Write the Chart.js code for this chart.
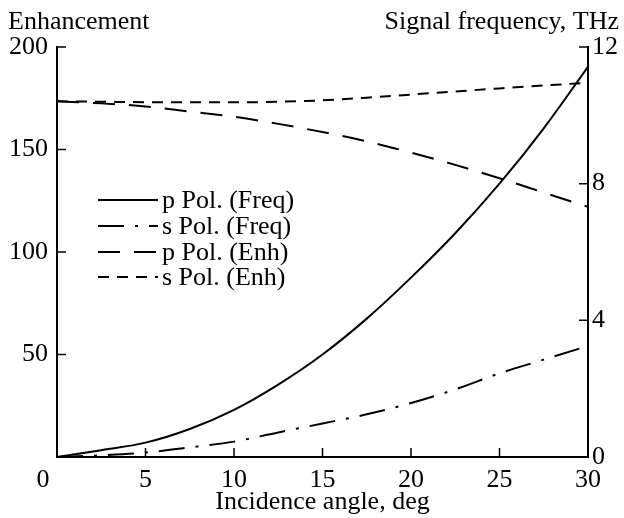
<!DOCTYPE html>
<html>
<head>
<meta charset="utf-8">
<script src="https://cdn.jsdelivr.net/npm/chart.js@4.4.1/dist/chart.umd.min.js"></script>
<style>
  html, body { margin: 0; padding: 0; background: #fff; }
  #wrap { width: 624px; height: 518px; }
</style>
</head>
<body>
<div id="wrap"><canvas id="chart"></canvas></div>
<script>
// data
const angles = [0, 2.5, 5, 7.5, 10, 12.5, 15, 17.5, 20, 22.5, 25, 27.5, 30];
const pFreq = [0, 0.2, 0.42, 0.82, 1.38, 2.12, 3.0, 4.05, 5.25, 6.55, 8.0, 9.62, 11.42];
const sFreq = [0, 0.05, 0.13, 0.28, 0.45, 0.72, 0.98, 1.25, 1.58, 1.98, 2.45, 2.85, 3.25];
const pEnh = [173.5, 172.5, 171, 168.5, 166, 162.5, 158.5, 154, 148.5, 142.5, 136, 129, 122];
const sEnh = [173.5, 173.3, 173.1, 173, 173, 173.3, 174, 175.3, 176.8, 178.3, 179.8, 181.2, 182.6];

const xTicks = [0, 5, 10, 15, 20, 25, 30];
const enhTicks = [0, 50, 100, 150, 200];
const freqTicks = [0, 4, 8, 12];

const seriesNames = ['p Pol. (Freq)', 's Pol. (Freq)', 'p Pol. (Enh)', 's Pol. (Enh)'];

const serif = '"Liberation Serif", "Times New Roman", serif';
const toPoints = (ys) => angles.map((a, i) => ({ x: a, y: ys[i] }));

// tick marks pointing into the plot + legend + top titles
const decorPlugin = {
    id: 'decor',
    afterDraw(chart) {
        const ctx = chart.ctx;
        const area = chart.chartArea;
        const sx = chart.scales.x, sl = chart.scales.yEnh, sr = chart.scales.yFreq;
        ctx.save();
        ctx.strokeStyle = '#000';
        ctx.lineWidth = 1.5;
        ctx.setLineDash([]);
        ctx.beginPath();
        xTicks.forEach(v => {
            const px = sx.getPixelForValue(v);
            ctx.moveTo(px, area.bottom);
            ctx.lineTo(px, area.bottom - 9);
        });
        enhTicks.forEach(v => {
            const py = sl.getPixelForValue(v);
            ctx.moveTo(area.left, py);
            ctx.lineTo(area.left + 9, py);
        });
        freqTicks.forEach(v => {
            const py = sr.getPixelForValue(v);
            ctx.moveTo(area.right, py);
            ctx.lineTo(area.right - 9, py);
        });
        ctx.stroke();

        ctx.fillStyle = '#000';
        ctx.font = '26px ' + serif;
        ctx.textBaseline = 'alphabetic';
        // titles at the top
        ctx.textAlign = 'left';
        ctx.fillText('Enhancement', 8, 29);
        ctx.textAlign = 'right';
        ctx.fillText('Signal frequency, THz', 619, 29);

        // the x "0" sits left of the corner
        ctx.textAlign = 'center';
        ctx.textBaseline = 'middle';
        ctx.fillText('0', sx.getPixelForValue(0) - 14, 480);

        // legend
        const legX = area.left + 41, legLen = 60;
        const rows = [200, 226, 252, 277];
        chart.data.datasets.forEach((ds, i) => {
            const y = rows[i];
            ctx.lineWidth = 2;
            ctx.setLineDash(ds.borderDash || []);
            ctx.beginPath();
            ctx.moveTo(legX, y);
            ctx.lineTo(legX + legLen, y);
            ctx.stroke();
            ctx.setLineDash([]);
            ctx.textAlign = 'left';
            ctx.textBaseline = 'middle';
            ctx.fillText(seriesNames[i], legX + legLen + 4, y + 1);
        });
        ctx.restore();
    }
};

new Chart(document.getElementById('chart'), {
    type: 'line',
    data: {
        datasets: [
            { label: seriesNames[0], data: toPoints(pFreq), yAxisID: 'yFreq', borderDash: [] },
            { label: seriesNames[1], data: toPoints(sFreq), yAxisID: 'yFreq', borderDash: [26, 11, 3, 11] },
            { label: seriesNames[2], data: toPoints(pEnh), yAxisID: 'yEnh', borderDash: [22, 14] },
            { label: seriesNames[3], data: toPoints(sEnh), yAxisID: 'yEnh', borderDash: [11, 8] }
        ].map(ds => Object.assign(ds, {
            borderColor: '#000',
            borderWidth: 2,
            pointRadius: 0,
            fill: false,
            cubicInterpolationMode: 'monotone'
        }))
    },
    options: {
        responsive: true,
        maintainAspectRatio: false,
        animation: false,
        layout: { padding: { top: 47, right: 0, left: 0, bottom: 0 } },
        plugins: {
            legend: { display: false },
            tooltip: { enabled: false }
        },
        scales: {
            x: {
                type: 'linear',
                min: 0,
                max: 30,
                afterBuildTicks: (scale) => { scale.ticks = xTicks.map(v => ({ value: v })); },
                ticks: {
                    color: '#000',
                    font: { family: serif, size: 26 },
                    padding: 8,
                    callback: (v) => v === 0 ? '' : v
                },
                grid: { display: false, drawTicks: false },
                border: { color: '#000', width: 2 },
                title: {
                    display: true,
                    text: 'Incidence angle, deg',
                    color: '#000',
                    font: { family: serif, size: 26 },
                    padding: { top: 0, bottom: 0 }
                },
                afterFit: (scale) => { scale.height = 61; }
            },
            yEnh: {
                position: 'left',
                min: 0,
                max: 200,
                afterBuildTicks: (scale) => { scale.ticks = enhTicks.map(v => ({ value: v })); },
                ticks: {
                    color: '#000',
                    font: { family: serif, size: 26 },
                    padding: 9,
                    callback: (v) => v === 0 ? '' : v
                },
                grid: { display: false, drawTicks: false },
                border: { color: '#000', width: 2 },
                afterFit: (scale) => { scale.width = 57; }
            },
            yFreq: {
                position: 'right',
                min: 0,
                max: 12,
                afterBuildTicks: (scale) => { scale.ticks = freqTicks.map(v => ({ value: v })); },
                ticks: { color: '#000', font: { family: serif, size: 26 }, padding: 4 },
                grid: { display: false, drawTicks: false },
                border: { color: '#000', width: 2 },
                afterFit: (scale) => { scale.width = 36; }
            }
        }
    },
    plugins: [decorPlugin]
});
</script>
</body>
</html>
